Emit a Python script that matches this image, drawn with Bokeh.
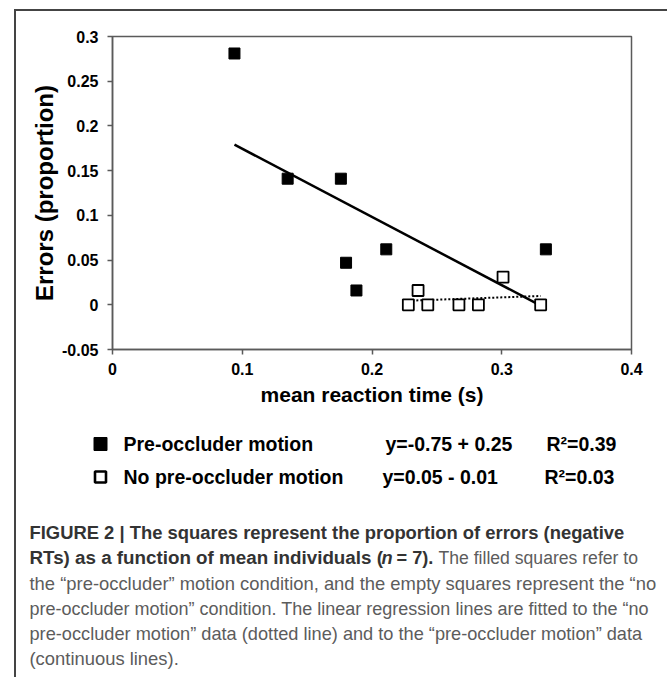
import numpy as np
from bokeh.plotting import figure
from bokeh.layouts import column
from bokeh.models import FixedTicker, Range1d
from bokeh.core.properties import value
from bokeh.embed import file_html
from bokeh.resources import INLINE

# ---- data ----
pre_rt = [0.094, 0.135, 0.176, 0.180, 0.188, 0.211, 0.334]
pre_err = [0.281, 0.141, 0.141, 0.047, 0.016, 0.062, 0.062]
nopre_rt = [0.228, 0.2355, 0.243, 0.267, 0.282, 0.301, 0.330]
nopre_err = [0.0, 0.016, 0.0, 0.0, 0.0, 0.031, 0.0]

x_ticks = [0, 0.1, 0.2, 0.3, 0.4]
x_tick_labels = ["0", "0.1", "0.2", "0.3", "0.4"]
y_ticks = [-0.05, 0, 0.05, 0.1, 0.15, 0.2, 0.25, 0.3]
y_tick_labels = ["-0.05", "0", "0.05", "0.1", "0.15", "0.2", "0.25", "0.3"]

legend_labels = ["Pre-occluder motion", "No pre-occluder motion"]
equations = ["y=-0.75 + 0.25", "y=0.05 - 0.01"]
r_squared = ["R\u00b2=0.39", "R\u00b2=0.03"]

caption_bold_1 = "FIGURE 2 | The squares represent the proportion of errors (negative"
caption_line2 = ["RTs) as a function of mean individuals (", "n", "= 7).",
                 "The filled squares refer to"]
caption_normal = [
    "the \u201cpre-occluder\u201d motion condition, and the empty squares represent the \u201cno",
    "pre-occluder motion\u201d condition. The linear regression lines are fitted to the \u201cno",
    "pre-occluder motion\u201d data (dotted line) and to the \u201cpre-occluder motion\u201d data",
    "(continuous lines).",
]

FONT = "Liberation Sans"
AX_C = "#5a5a5a"
OFF_X, OFF_Y = 16, 11          # page offset of the inner layout (frame lines + margin)
W = 667 - OFF_X

# ---------------- main chart ----------------
p = figure(width=W, height=410 - OFF_Y, x_range=(0, 0.4), y_range=(-0.05, 0.3),
           output_backend="svg", toolbar_location=None,
           min_border_left=112 - OFF_X, min_border_right=667 - 631,
           min_border_top=36 - OFF_Y, min_border_bottom=410 - 349,
           background_fill_color="white", border_fill_color="white")
p.frame_align = False
p.grid.visible = False
p.outline_line_color = AX_C
p.outline_line_width = 1.5

for ax in (p.xaxis[0], p.yaxis[0]):
    ax.axis_line_color = AX_C
    ax.axis_line_width = 1.5
    ax.major_tick_line_color = AX_C
    ax.major_tick_line_width = 1.5
    ax.major_tick_out = 5
    ax.major_tick_in = 0
    ax.minor_tick_line_color = None
    ax.major_label_text_font = FONT
    ax.major_label_text_font_style = "bold"
    ax.major_label_text_font_size = "16px"
    ax.major_label_text_color = "black"
    ax.axis_label_text_font = FONT
    ax.axis_label_text_font_style = "bold"
    ax.axis_label_text_color = "black"

p.xaxis.ticker = FixedTicker(ticks=x_ticks)
p.xaxis.major_label_overrides = dict(zip(x_ticks, x_tick_labels))
p.yaxis.ticker = FixedTicker(ticks=y_ticks)
p.yaxis.major_label_overrides = dict(zip(y_ticks, y_tick_labels))
p.xaxis.major_label_standoff = 8
p.yaxis.major_label_standoff = 9
p.xaxis.axis_label = "mean reaction time (s)"
p.xaxis.axis_label_text_font_size = "21px"
p.xaxis.axis_label_standoff = 5
p.yaxis.axis_label = "Errors (proportion)"
p.yaxis.axis_label_text_font_size = "24px"
p.yaxis.axis_label_standoff = 1


def fit_line(xs, ys):
    k, b = np.polyfit(xs, ys, 1)
    xx = np.array([min(xs), max(xs)])
    return xx, k * xx + b


fx, fy = fit_line(pre_rt, pre_err)
nx, ny = fit_line(nopre_rt, nopre_err)
p.line(fx, fy, line_color="black", line_width=2.5)
p.line(nx, ny, line_color="black", line_width=2, line_dash="2 2")

p.scatter(pre_rt, pre_err, marker="square", size=11,
          fill_color="black", line_color="black")
p.scatter(nopre_rt, nopre_err, marker="square", size=11,
          fill_color="white", line_color="black", line_width=1.8)

# ---------------- legend + caption panel (pixel coordinates) ----------------
H2 = 677 - 410
q = figure(width=W, height=H2, x_range=Range1d(OFF_X, 667),
           y_range=Range1d(677, 410), output_backend="svg", toolbar_location=None,
           min_border=0, background_fill_color="white", border_fill_color="white")
q.frame_align = False
q.axis.visible = False
q.grid.visible = False
q.outline_line_color = None

row_y = [443.5, 476.5]
sw_x = [100, 100]
q.scatter(x=[sw_x[0]], y=[row_y[0]], marker="square", size=13,
          fill_color="black", line_color="black")
q.scatter(x=[sw_x[1]], y=[row_y[1]], marker="square", size=11,
          fill_color="white", line_color="black", line_width=2.6)

txt = dict(text_font=value(FONT), text_font_style="bold", text_font_size="19.5px",
           text_baseline="middle", text_color="black")
q.text(x=[123, 123], y=row_y, text=legend_labels, **txt)
q.text(x=[385, 382], y=row_y, text=equations, **txt)
q.text(x=[546, 544], y=row_y, text=r_squared, **txt)

cap_y = [532, 557, 583, 608, 633, 658]
BOLD_C = "#333333"
NORM_C = "#5c5c5c"
cap = dict(text_font=value(FONT), text_baseline="middle")
q.text(x=[29], y=[cap_y[0]], text=[caption_bold_1], text_font_style="bold",
       text_font_size="18.4px", text_color=BOLD_C, **cap)
q.text(x=[29], y=[cap_y[1]], text=[caption_line2[0]],
       text_font_style="bold", text_font_size="18.8px", text_color=BOLD_C, **cap)
q.text(x=[381], y=[cap_y[1]], text=[caption_line2[1]], text_font_style="bold italic",
       text_font_size="18.2px", text_color=BOLD_C, **cap)
q.text(x=[396], y=[cap_y[1]], text=[caption_line2[2]],
       text_font_style="bold", text_font_size="18.2px", text_color=BOLD_C, **cap)
q.text(x=[438], y=[cap_y[1]], text=[caption_line2[3]], text_font_style="normal",
       text_font_size="17.6px", text_color=NORM_C, **cap)
normal_sizes = ["18.4px", "18px", "18.2px", "18.4px"]
for line, yy, fs in zip(caption_normal, cap_y[2:], normal_sizes):
    q.text(x=[29], y=[yy], text=[line], text_font_style="normal",
           text_font_size=fs, text_color=NORM_C, **cap)

layout = column(p, q, spacing=0, margin=(9, 0, 0, 14),
                styles={"border-left": "2px solid #444444",
                        "border-top": "2px solid #444444"})

open("out.html", "w").write(file_html(layout, INLINE))
